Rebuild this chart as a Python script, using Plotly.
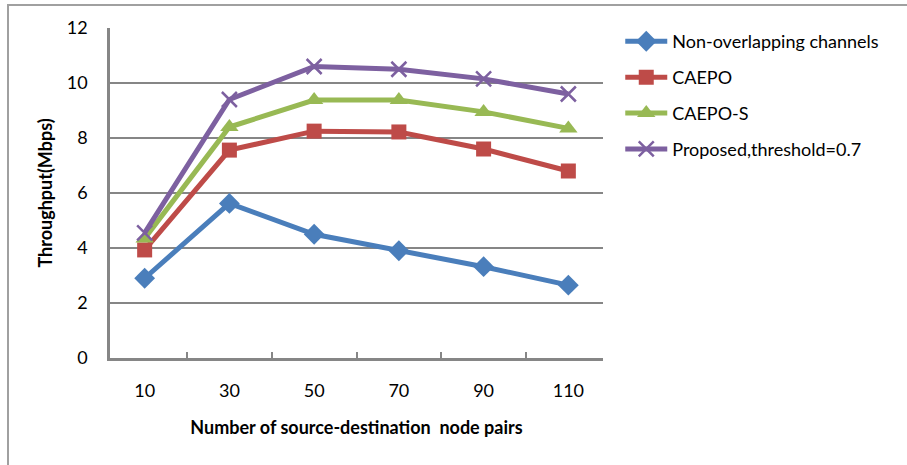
import plotly.graph_objects as go

categories = ["10", "30", "50", "70", "90", "110"]
non_overlapping = [2.9, 5.62, 4.5, 3.9, 3.32, 2.65]
caepo = [3.93, 7.56, 8.25, 8.22, 7.6, 6.8]
caepo_s = [4.35, 8.4, 9.38, 9.38, 8.95, 8.35]
proposed = [4.55, 9.4, 10.6, 10.5, 10.15, 9.6]
y_ticks = [0, 2, 4, 6, 8, 10, 12]

series = [
    ("Non-overlapping channels", non_overlapping, "#4A7EBB", dict(symbol="diamond", size=16)),
    ("CAEPO", caepo, "#BE4B48", dict(symbol="square", size=15)),
    ("CAEPO-S", caepo_s, "#98B954", dict(symbol="triangle-up", size=16)),
    ("Proposed,threshold=0.7", proposed, "#7D60A0",
     dict(symbol="x-thin-open", size=15, line=dict(width=2.5, color="#7D60A0"))),
]

fig = go.Figure()
for name, vals, color, marker in series:
    m = dict(marker)
    m["color"] = color
    fig.add_trace(go.Scatter(x=categories, y=vals, name=name, legendgroup=name, mode="lines+markers",
                             line=dict(color=color, width=5), marker=m))

font_family = "Lato, 'Open Sans', sans-serif"
fig.update_layout(
    width=907, height=465,
    margin=dict(l=110, r=304, t=28, b=107, autoexpand=False),
    paper_bgcolor="white", plot_bgcolor="white",
    font=dict(family=font_family, size=18, color="#000000"),
    showlegend=True,
    legend=dict(x=1.035, y=1.015, xanchor="left", yanchor="top",
                font=dict(family=font_family, size=18, color="#000000"),
                tracegroupgap=9.5, itemwidth=42, bgcolor="rgba(0,0,0,0)"),
    xaxis=dict(type="category", showgrid=False, showline=True, linecolor="#868686", linewidth=2.5,
               automargin=False,
               ticks="inside", tickson="boundaries", ticklen=6, tickcolor="#868686", tickwidth=2,
               tickfont=dict(size=18), ticklabelstandoff=15,
               title=dict(text="<b>Number of source-destination  node pairs</b>",
                          font=dict(size=18), standoff=22)),
    yaxis=dict(range=[0, 12], tickvals=y_ticks, showgrid=True, gridcolor="#868686", gridwidth=2,
               automargin=False,
               showline=True, linecolor="#868686", linewidth=2.5, zeroline=False,
               ticks="", tickfont=dict(size=18), ticklabelstandoff=16,
               title=dict(text="<b>Throughput(Mbps)</b>", font=dict(size=18), standoff=10)),
    shapes=[dict(type="rect", xref="paper", yref="paper",
                 x0=(8 - 110) / 493, x1=2.0, y0=-1.0, y1=(358 - 5) / 330,
                 line=dict(color="#A0A0A0", width=2), fillcolor="rgba(0,0,0,0)", layer="below")],
)

fig.write_html("out.html")
